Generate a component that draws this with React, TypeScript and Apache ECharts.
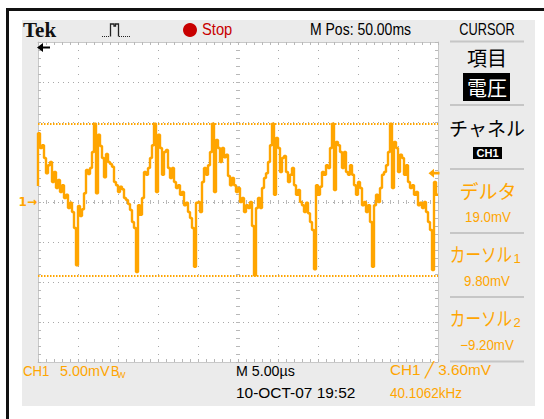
import React, { useEffect, useRef } from 'react';
import * as echarts from 'echarts';

// ---- acquisition data (CH1, mV), one sample every 0.25 µs ----
const SAMPLE_US = 0.25;
const VOLTAGE_MV = [
  2.0, 8.6, 6.75, 7.1, 5.5, 3.6, 4.6, 5.0, 2.5, 3.75, 1.75, 2.75, 1.25, 2.1, 0.5, 0.9, -0.75, -0.1, -1.25, -3.25, -7.9,
  -0.5, -1.75, -0.9, 1.1, 4.0, 3.5, 4.25, 6.25, 9.8,
  1.1,
  8.4, 7.0, 5.5, 3.1, 6.0, 5.0, 4.75, 4.4, 2.5, 2.1, 1.25, 1.9, 1.6, 0.5, 0.25, -0.25, -1.0, -2.5, -3.25,
  -8.75,
  -0.4, -1.6, 0.5, 3.75, 3.4, 4.25, 5.5, 7.1,
  9.8, 1.25,
  8.4, 6.75, 3.4, 6.25, 6.5, 4.25, 3.0, 4.25, 2.5, 1.75, 2.1, 0.9, 1.25, -0.4, -0.1, -1.25, -2.0, -3.25,
  -8.1,
  -0.1, 0.0, -1.25, 2.5, 4.25, 3.4, 4.6, 6.25,
  9.8, 1.25,
  7.75, 6.75, 5.0, 6.75, 5.6, 5.9, 3.25, 2.1, 3.0, 2.1, 1.25, 1.75, 0.0, 0.5, -1.25, -0.4, -0.75, 0.0, -3.0,
  -9.2,
  -0.75, 0.5, -0.75, 1.75, 3.0, 3.6, 5.0, 7.1,
  9.8, 0.9,
  8.0, 6.75, 3.75, 5.5, 5.75, 3.75, 2.5, 3.4, 4.25, 2.1, 0.9, 1.5, 0.0, -0.4, -1.25, -0.1, -1.4, -2.5, -3.5,
  -8.4,
  2.1, 0.9, 1.9, 3.75, 3.4, 4.6, 4.25, 6.75,
  9.8, 1.5,
  7.5, 7.1, 6.25, 4.25, 6.25, 3.75, 3.4, 4.6, 3.4, 2.1, 0.9, 2.5, 1.75, -0.4, 0.0, -1.25, -0.4, -2.5,
  -8.1,
  -0.4, 0.9, 0.0, 1.75, 3.4, 3.75, 4.6, 6.25,
  9.8, 1.75,
  7.5, 6.75, 3.75, 5.9, 5.5, 3.4, 4.6, 2.5, 1.75, 2.1, 0.9, 1.25, -0.4, -0.1, -0.75, 0.0, -1.25, -2.5, -3.5,
  -8.5, 2.5, 0.9,
];

const TIME_RANGE_US = [0, 50];
const TIME_DIV_US = 5;
const VOLT_RANGE_MV = [-20, 20];
const VOLT_DIV_MV = 5;
const CURSORS_MV = [9.8, -9.2];
const TRIGGER_LEVEL_MV = 3.6;
const GROUND_MV = 0;

// ---- readout texts ----
const HEADER_TEXTS = ['Tek', 'Stop', 'M Pos: 50.00ms', 'CURSOR'];
const MENU_TEXTS = ['項目', '電圧', 'チャネル', 'CH1', 'デルタ', '19.0mV', 'カーソル', '1', '9.80mV', 'カーソル', '2', '−9.20mV'];
const FOOTER_TEXTS = ['CH1', '5.00mV', 'B', 'W', 'M 5.00µs', '10-OCT-07 19:52', 'CH1 ╱ 3.60mV', '40.1062kHz'];

const ORANGE = '#FFA500';
const GRAT = '#B8B8B8';
const PANEL = '#EBEBEB';
const SANS = "'Liberation Sans', Arial, sans-serif";
const CJK = "'Noto Sans CJK JP', sans-serif";

function txt(text: string, x: number, y: number, o: any = {}) {
  const align = o.align || 'left';
  return {
    type: 'text',
    x,
    y,
    scaleX: o.scaleX ?? 1,
    z: 20,
    silent: true,
    style: {
      text,
      fill: o.fill || '#000',
      fontSize: o.fontSize || 15,
      fontFamily: o.fontFamily || SANS,
      fontWeight: o.fontWeight || 'normal',
      align,
      textAlign: align,
      verticalAlign: 'middle',
      textVerticalAlign: 'middle',
    },
  };
}

export default function App() {
  const ref = useRef<HTMLDivElement>(null);

  useEffect(() => {
    if (!ref.current) return;
    const chart = echarts.init(ref.current, undefined, { renderer: 'svg' });

    const gratLine = { show: true, onZero: false, lineStyle: { color: '#C8C8C8', width: 1 } };
    const noLine = { show: false, onZero: false };
    const baseX = {
      type: 'value',
      min: TIME_RANGE_US[0],
      max: TIME_RANGE_US[1],
      interval: TIME_DIV_US,
      axisLabel: { show: false },
      splitLine: { show: false },
    };
    const baseY = {
      type: 'value',
      min: VOLT_RANGE_MV[0],
      max: VOLT_RANGE_MV[1],
      interval: VOLT_DIV_MV,
      axisLabel: { show: false },
      splitLine: { show: false },
    };
    const ticks = (inside: boolean, len: number) => ({
      axisTick: { show: true, inside, length: len, lineStyle: { color: GRAT, width: 1 } },
      minorTick: { show: true, splitNumber: 5, length: len, lineStyle: { color: GRAT, width: 1 } },
    });

    const [brand, stop, mpos, cursorTitle] = HEADER_TEXTS;
    const [m0, m1, m2, m3, m4, m5, m6, m7, m8, m9, m10, m11] = MENU_TEXTS;
    const [f0, f1, f2, f3, f4, f5, f6, f7] = FOOTER_TEXTS;
    const sepYs = [41.5, 105, 169, 233, 297, 361.5];

    const option: any = {
      animation: false,
      backgroundColor: '#FFFFFF',
      grid: {
        left: 38,
        top: 42,
        width: 400,
        height: 320,
        show: true,
        backgroundColor: '#FFFFFF',
        borderWidth: 0,
      },
      xAxis: [
        {
          ...baseX,
          position: 'bottom',
          axisLine: gratLine,
          ...ticks(true, 3),
          splitLine: { show: true, lineStyle: { color: '#A8A8A8', width: 1, type: [1, 7] } },
        },
        { ...baseX, position: 'top', axisLine: gratLine, ...ticks(true, 3) },
        { ...baseX, position: 'bottom', offset: -160, axisLine: noLine, ...ticks(true, 2) },
        { ...baseX, position: 'bottom', offset: -160, axisLine: noLine, ...ticks(false, 2) },
      ],
      yAxis: [
        {
          ...baseY,
          position: 'left',
          axisLine: gratLine,
          ...ticks(true, 3),
          splitLine: { show: true, lineStyle: { color: '#A8A8A8', width: 1, type: [1, 4] } },
          axisLabel: {
            show: true,
            margin: 1,
            color: ORANGE,
            fontSize: 12,
            fontWeight: 'bold',
            fontFamily: 'DejaVu Sans',
            formatter: (v: number) => (v === GROUND_MV ? '1→' : ''),
          },
        },
        { ...baseY, position: 'right', axisLine: gratLine, ...ticks(true, 3) },
        { ...baseY, position: 'left', offset: -200, axisLine: noLine, ...ticks(true, 2) },
        { ...baseY, position: 'left', offset: -200, axisLine: noLine, ...ticks(false, 2) },
      ],
      series: [
        {
          type: 'line',
          xAxisIndex: 0,
          yAxisIndex: 0,
          data: VOLTAGE_MV.map((v, i) => [i * SAMPLE_US, v]),
          step: 'start',
          symbol: 'none',
          showSymbol: false,
          clip: true,
          z: 5,
          lineStyle: { color: ORANGE, width: 2.4 },
          itemStyle: { color: ORANGE },
          markLine: {
            silent: true,
            symbol: 'none',
            animation: false,
            label: { show: false },
            lineStyle: { color: ORANGE, width: 2, type: [1.5, 1.5] },
            data: CURSORS_MV.map((v) => ({ yAxis: v })),
          },
          markPoint: {
            silent: true,
            animation: false,
            symbol: 'path://M0,5 L6,0 L6,3.5 L12,3.5 L12,6.5 L6,6.5 L6,10 Z',
            symbolSize: [11, 9],
            symbolOffset: [-4, 0],
            itemStyle: { color: ORANGE },
            label: { show: false },
            data: [{ coord: [TIME_RANGE_US[1], TRIGGER_LEVEL_MV] }],
          },
        },
      ],
      graphic: [
        // frame
        { type: 'rect', z: -20, silent: true, shape: { x: 22, y: 20, width: 513, height: 386 }, style: { fill: PANEL } },
        { type: 'rect', z: 30, silent: true, shape: { x: 6, y: 8, width: 538, height: 3 }, style: { fill: '#111' } },
        { type: 'rect', z: 30, silent: true, shape: { x: 6, y: 8, width: 3, height: 411 }, style: { fill: '#111' } },
        // menu separators
        ...sepYs.map((y) => ({
          type: 'line',
          z: 10,
          silent: true,
          shape: { x1: 450, y1: y, x2: 524, y2: y },
          style: { stroke: '#C6C6C6', lineWidth: 2 },
        })),
        // acquisition icon
        { type: 'line', z: 10, silent: true, shape: { x1: 102, y1: 36.5, x2: 110, y2: 36.5 }, style: { stroke: '#222', lineWidth: 1, lineDash: [1, 1] } },
        {
          type: 'polyline',
          z: 10,
          silent: true,
          shape: { points: [[110.5, 36.5], [110.5, 24], [114, 24], [114, 26], [115.5, 26], [115.5, 24], [118.5, 24], [118.5, 36.5]] },
          style: { stroke: '#222', lineWidth: 1.3, fill: 'none' },
        },
        { type: 'line', z: 10, silent: true, shape: { x1: 119, y1: 36.5, x2: 131, y2: 36.5 }, style: { stroke: '#222', lineWidth: 1, lineDash: [1, 1] } },
        { type: 'circle', z: 10, silent: true, shape: { cx: 190, cy: 30, r: 7 }, style: { fill: '#C80000' } },
        // trigger-position arrow (top-left)
        {
          type: 'polygon',
          z: 20,
          silent: true,
          shape: { points: [[37, 47.5], [43, 43], [43, 46.5], [50, 46.5], [50, 48.5], [43, 48.5], [43, 52]] },
          style: { fill: '#000' },
        },
        // header
        txt(brand, 23, 30, { fontSize: 21, fontWeight: 'bold', fontFamily: "'Liberation Serif', serif", fill: '#111' }),
        txt(stop, 202, 29.5, { fontSize: 16, fill: '#C80000', scaleX: 0.92 }),
        txt(mpos, 310, 29.5, { fontSize: 16, scaleX: 0.875 }),
        txt(cursorTitle, 487, 29.5, { fontSize: 16, scaleX: 0.8, align: 'center' }),
        // menu
        txt(m0, 487, 57, { fontSize: 20, fontFamily: CJK, align: 'center' }),
        { type: 'rect', z: 15, silent: true, shape: { x: 463, y: 73, width: 47, height: 28 }, style: { fill: '#000' } },
        txt(m1, 487, 87, { fontSize: 20, fontFamily: CJK, align: 'center', fill: '#FFF' }),
        txt(m2, 487, 127, { fontSize: 19, fontFamily: CJK, align: 'center' }),
        { type: 'rect', z: 15, silent: true, shape: { x: 473, y: 147, width: 29, height: 12 }, style: { fill: '#000' } },
        txt(m3, 487.5, 153, { fontSize: 11, fontWeight: 'bold', align: 'center', fill: '#FFF' }),
        txt(m4, 488, 190, { fontSize: 19, fontFamily: CJK, align: 'center', fill: ORANGE }),
        txt(m5, 488, 217, { fontSize: 14, align: 'center', fill: ORANGE, scaleX: 0.95 }),
        txt(m6, 481, 254, { fontSize: 19, fontFamily: CJK, align: 'center', fill: ORANGE, scaleX: 0.82 }),
        txt(m7, 517, 258, { fontSize: 13, align: 'center', fill: ORANGE }),
        txt(m8, 487, 281, { fontSize: 14, align: 'center', fill: ORANGE, scaleX: 0.95 }),
        txt(m9, 481, 318, { fontSize: 19, fontFamily: CJK, align: 'center', fill: ORANGE, scaleX: 0.82 }),
        txt(m10, 517, 322, { fontSize: 13, align: 'center', fill: ORANGE }),
        txt(m11, 487, 345, { fontSize: 14, align: 'center', fill: ORANGE, scaleX: 0.95 }),
        // footer
        txt(f0, 23, 371, { fontSize: 15, fill: ORANGE, scaleX: 0.88 }),
        txt(f1, 60, 371, { fontSize: 15, fill: ORANGE, scaleX: 0.96 }),
        txt(f2, 111, 371, { fontSize: 14, fill: ORANGE, scaleX: 0.9 }),
        txt(f3, 117, 375, { fontSize: 9, fill: ORANGE }),
        txt(f4, 236, 371, { fontSize: 15, scaleX: 0.95 }),
        txt(f5, 236, 393, { fontSize: 15, scaleX: 1.03 }),
        txt(f6, 390, 370, { fontSize: 15, fill: ORANGE, scaleX: 1.02 }),
        txt(f7, 390, 393, { fontSize: 15, fill: ORANGE, scaleX: 0.9 }),
      ],
    };

    chart.setOption(option);
    return () => chart.dispose();
  }, []);

  return <div ref={ref} style={{ position: 'fixed', left: 0, top: 0, width: 544, height: 419 }} />;
}
